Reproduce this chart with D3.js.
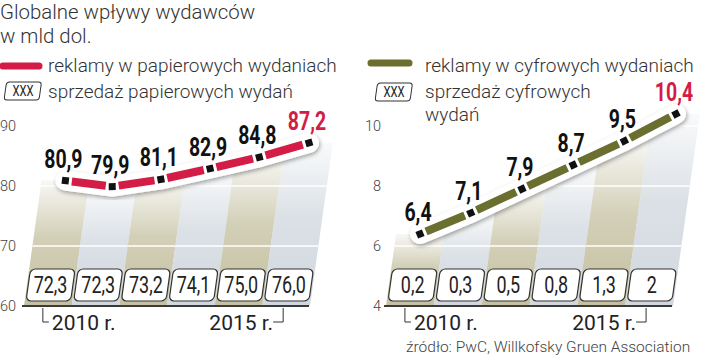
<!DOCTYPE html>
<html><head><meta charset="utf-8">
<script src="https://cdn.jsdelivr.net/npm/d3@7"></script>
<style>
body{margin:0;background:#fff;}
svg{display:block;}
</style></head>
<body>
<svg id="chart" width="720" height="360"></svg>
<script>
const years = [2010, 2011, 2012, 2013, 2014, 2015];
const printAds = [80.9, 79.9, 81.1, 82.9, 84.8, 87.2];
const printSales = [72.3, 72.3, 73.2, 74.1, 75.0, 76.0];
const digitalAds = [6.4, 7.1, 7.9, 8.7, 9.5, 10.4];
const digitalSales = [0.2, 0.3, 0.5, 0.8, 1.3, 2];
const printTicks = [60, 70, 80, 90];
const digitalTicks = [4, 6, 8, 10];
const titleLines = ["Globalne wpływy wydawców", "w mld dol."];
const legendPrint = ["reklamy w papierowych wydaniach", "sprzedaż papierowych wydań"];
const legendDigital = ["reklamy w cyfrowych wydaniach", "sprzedaż cyfrowych", "wydań"];
const yearLabels = ["2010 r.", "2015 r."];
const source = "źródło: PwC, Willkofsky Gruen Association";

const RED = "#d31c46", OLIVE = "#6a6e2e";
const LIGHT = "Roboto, 'Liberation Sans', sans-serif";
const COND = "Roboto, 'Liberation Sans', sans-serif";
const K = 0.14; // slant
const SKEW = -Math.atan(K) * 180 / Math.PI;
const BASE = 306;

const svg = d3.select("#chart");
const defs = svg.append("defs");
function grad(id, c) {
  const g = defs.append("linearGradient").attr("id", id).attr("x1", 0).attr("y1", 1).attr("x2", 0).attr("y2", 0);
  g.append("stop").attr("offset", 0).attr("stop-color", c).attr("stop-opacity", 1);
  g.append("stop").attr("offset", 0.55).attr("stop-color", c).attr("stop-opacity", 0.75);
  g.append("stop").attr("offset", 1).attr("stop-color", c).attr("stop-opacity", 0.12);
}
grad("gOlive", "#c4c0a0");
grad("gBlue", "#d0d7de");
const f = defs.append("filter").attr("id", "shadow").attr("x", "-10%").attr("y", "-30%").attr("width", "120%").attr("height", "160%");
f.append("feDropShadow").attr("dx", 1).attr("dy", 2).attr("stdDeviation", 2).attr("flood-color", "#000").attr("flood-opacity", 0.35);

function condText(g, x, y, txt, size, opts = {}) {
  return g.append("text")
    .attr("transform", `translate(${x},${y}) scale(${opts.sx || 0.78},1)`)
    .attr("text-anchor", opts.anchor || "middle")
    .attr("font-family", COND).attr("font-weight", opts.weight || "normal")
    .attr("font-size", size).attr("fill", opts.fill || "#222").text(txt);
}

function multiText(g, x, ys, lines) {
  const t = g.append("text");
  lines.forEach((l, i) => t.append("tspan").attr("x", x).attr("y", ys[i]).text(l));
  return t;
}

// Title & legends
const title = svg.append("g").attr("font-family", LIGHT).attr("fill", "#333").attr("font-weight", 300).attr("font-size", 20.4);
multiText(title, 0, [19, 43.2], titleLines);

function xxxBox(g, x, yBottom) {
  const b = g.append("g").attr("transform", `translate(${x},${yBottom}) skewX(${SKEW})`);
  b.append("rect").attr("x", 0).attr("y", -18).attr("width", 35).attr("height", 18).attr("rx", 3)
    .attr("fill", "#fff").attr("stroke", "#333").attr("stroke-width", 1);
  condText(g, x + 19, yBottom - 4, "XXX", 14, {sx: 0.8});
}

const leg = svg.append("g").attr("font-family", LIGHT).attr("font-weight", 300).attr("fill", "#333").attr("font-size", 19);
leg.append("line").attr("x1", 3).attr("x2", 39).attr("y1", 66).attr("y2", 66)
  .attr("stroke", RED).attr("stroke-width", 7).attr("stroke-linecap", "round");
leg.append("text").attr("x", 48).attr("y", 72).text(legendPrint[0]);
xxxBox(leg, 4, 100);
leg.append("text").attr("x", 48).attr("y", 98).text(legendPrint[1]);

leg.append("line").attr("x1", 371).attr("x2", 409).attr("y1", 63).attr("y2", 63)
  .attr("stroke", OLIVE).attr("stroke-width", 7).attr("stroke-linecap", "round");
leg.append("text").attr("x", 425).attr("y", 72).text(legendDigital[0]);
xxxBox(leg, 375, 101);
leg.append("text").attr("x", 425).attr("y", 98).text(legendDigital[1]);
leg.append("text").attr("x", 425).attr("y", 120.6).text(legendDigital[2]);

function panel(cfg) {
  const y = d3.scaleLinear().domain(cfg.domain).range([BASE, 126]);
  const x = d3.scaleBand().domain(years).range(cfg.range);
  const bw = x.bandwidth();
  const g = svg.append("g");
  const sx = yy => (BASE - yy) * K;

  g.selectAll(".tick").data(cfg.ticks).join("text")
    .attr("x", cfg.tickX).attr("y", d => y(d) + 5).attr("text-anchor", "end")
    .attr("font-family", LIGHT).attr("font-weight", 300).attr("font-size", 14.5).attr("fill", "#444")
    .text(d => d);

  years.forEach((yr, i) => {
    const top = y(cfg.ads[i]);
    g.append("g").attr("transform", `translate(${x(yr)},${BASE}) skewX(${SKEW})`)
      .append("rect").attr("x", 0).attr("y", top - BASE).attr("width", bw).attr("height", BASE - top)
      .attr("fill", i % 2 === 0 ? "url(#gOlive)" : "url(#gBlue)");
    cfg.ticks.forEach(t => {
      const ty = y(t);
      if (ty < BASE - 1 && ty > top + 2) {
        g.append("line").attr("x1", x(yr) + sx(ty)).attr("x2", x(yr) + bw + sx(ty))
          .attr("y1", ty).attr("y2", ty).attr("stroke", "#fff").attr("stroke-width", 1.5);
      }
    });
  });

  g.append("line").attr("x1", cfg.range[0] - 2).attr("x2", cfg.range[1] - 1).attr("y1", BASE).attr("y2", BASE)
    .attr("stroke", "#3a3a3a").attr("stroke-width", 2);

  years.forEach((yr, i) => {
    const bx = x(yr) + 2;
    g.append("g").attr("transform", `translate(${bx},301) skewX(${SKEW})`)
      .append("rect").attr("x", 0).attr("y", -32).attr("width", bw - 3).attr("height", 32).attr("rx", 5)
      .attr("fill", "#fff").attr("stroke", "#333").attr("stroke-width", 1.2);
    condText(g, bx + (bw - 3) / 2 + 16 * K, 293, cfg.salesFmt(cfg.sales[i]), 23, {sx: 0.78});
  });

  const c0 = x(years[0]) + bw / 2 - 5, c5 = x(years[5]) + bw / 2 - 3;
  g.append("path").attr("d", `M${c0},${BASE + 2}V${BASE + 16}H${c0 + 6}`)
    .attr("fill", "none").attr("stroke", "#333").attr("stroke-width", 1);
  g.append("path").attr("d", `M${c5},${BASE + 2}V${BASE + 16}H${c5 - 10}`)
    .attr("fill", "none").attr("stroke", "#333").attr("stroke-width", 1);
  g.append("text").attr("x", c0 + 9).attr("y", 330).attr("font-family", LIGHT).attr("font-size", 21).attr("fill", "#222").text(yearLabels[0]);
  g.append("text").attr("x", c5 - 10).attr("y", 330).attr("text-anchor", "end").attr("font-family", LIGHT).attr("font-size", 21).attr("fill", "#222").text(yearLabels[1]);

  const pts = years.map((yr, i) => {
    const py = y(cfg.ads[i]);
    return [x(yr) + bw / 2 + sx(py), py];
  });
  g.append("path").attr("d", d3.line()(pts)).attr("fill", "none").attr("stroke", "#fff")
    .attr("stroke-width", 20).attr("stroke-linecap", "round").attr("stroke-linejoin", "round")
    .attr("filter", "url(#shadow)");
  const gap = 6.5;
  for (let i = 0; i < pts.length - 1; i++) {
    const [x1, y1] = pts[i], [x2, y2] = pts[i + 1];
    const L = Math.hypot(x2 - x1, y2 - y1), ux = (x2 - x1) / L, uy = (y2 - y1) / L;
    g.append("line").attr("x1", x1 + ux * gap).attr("y1", y1 + uy * gap)
      .attr("x2", x2 - ux * gap).attr("y2", y2 - uy * gap)
      .attr("stroke", cfg.color).attr("stroke-width", 8);
  }
  pts.forEach((p, i) => {
    const a = pts[Math.max(0, i - 1)], b = pts[Math.min(pts.length - 1, i + 1)];
    const ang = Math.atan2(b[1] - a[1], b[0] - a[0]) * 180 / Math.PI;
    g.append("rect").attr("x", -3.5).attr("y", -3.5).attr("width", 7).attr("height", 7).attr("fill", "#111")
      .attr("transform", `translate(${p[0]},${p[1]}) rotate(${ang})`);
    condText(g, p[0] - 2, p[1] - 13, String(cfg.ads[i]).replace(".", ","), 25,
      {weight: "bold", sx: 0.78, fill: i === pts.length - 1 ? RED : "#111"});
  });
}

panel({domain: [60, 90], range: [24, 310], ticks: printTicks, tickX: 16, ads: printAds, sales: printSales,
  salesFmt: v => v.toFixed(1).replace(".", ","), color: RED});
panel({domain: [4, 10], range: [386, 673], ticks: digitalTicks, tickX: 381, ads: digitalAds, sales: digitalSales,
  salesFmt: v => String(v).replace(".", ","), color: OLIVE});

svg.append("text").attr("x", 406).attr("y", 352).attr("font-family", LIGHT).attr("font-weight", 300)
  .attr("font-size", 15.5).attr("fill", "#444").text(source);
</script>
</body></html>
